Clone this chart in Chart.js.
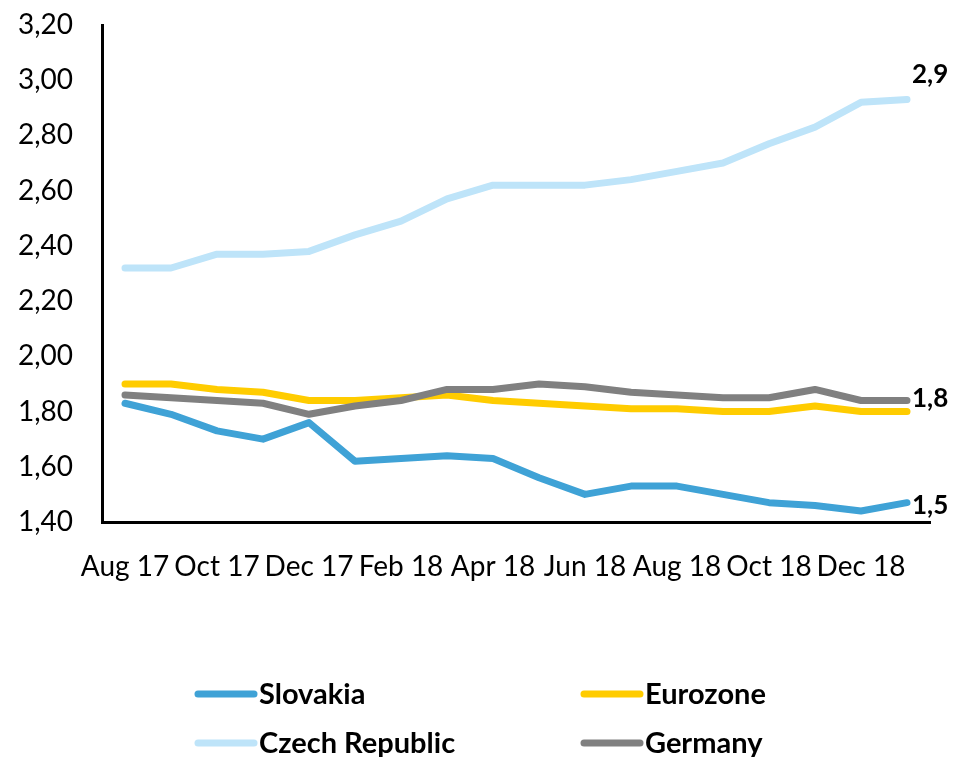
<!DOCTYPE html>
<html>
<head>
<meta charset="utf-8">
<script src="https://cdn.jsdelivr.net/npm/chart.js@4.4.1/dist/chart.umd.min.js"></script>
<style>
  html, body { margin: 0; padding: 0; background: #fff; }
  #wrap { width: 954px; height: 757px; }
</style>
</head>
<body>
<div id="wrap"><canvas id="chart" width="954" height="757"></canvas></div>
<script>

/* DATA */

const months = ["Aug 17","Sep 17","Oct 17","Nov 17","Dec 17","Jan 18","Feb 18","Mar 18","Apr 18",
                "May 18","Jun 18","Jul 18","Aug 18","Sep 18","Oct 18","Nov 18","Dec 18","Jan 19"];

const slovakia = [1.83,1.79,1.73,1.70,1.76,1.62,1.63,1.64,1.63,1.56,1.50,1.53,1.53,1.50,1.47,1.46,1.44,1.47];
const eurozone = [1.90,1.90,1.88,1.87,1.84,1.84,1.85,1.86,1.84,1.83,1.82,1.81,1.81,1.80,1.80,1.82,1.80,1.80];
const czech    = [2.32,2.32,2.37,2.37,2.38,2.44,2.49,2.57,2.62,2.62,2.62,2.64,2.67,2.70,2.77,2.83,2.92,2.93];
const germany  = [1.86,1.85,1.84,1.83,1.79,1.82,1.84,1.88,1.88,1.90,1.89,1.87,1.86,1.85,1.85,1.88,1.84,1.84];

const yMin = 1.4;
const yMax = 3.2;
const yStep = 0.2;

const FONT = "Lato";

function comma(v, d){
    return v.toFixed(d).replace(".", ",");
}

/* end-of-line value labels */

const endLabels = {

    id: "endLabels",

    afterDatasetsDraw(chart){

        const ctx = chart.ctx;

        ctx.save();
        ctx.font = "bold 26px " + FONT;
        ctx.fillStyle = "#000";
        ctx.textAlign = "left";
        ctx.textBaseline = "middle";

        chart.data.datasets.forEach((ds, i)=>{

            if(ds.endLabel === undefined) return;

            const meta = chart.getDatasetMeta(i);
            const pt = meta.data[meta.data.length - 1];
            const v = ds.data[ds.data.length - 1];

            ctx.fillText(comma(v, 1), pt.x + 5, pt.y + ds.endLabel);

        });

        ctx.restore();

    }

};

/* legend, two columns under the plot */

const legendBox = {

    id: "legendBox",

    afterDraw(chart){

        const ctx = chart.ctx;
        const cols = [198, 584];
        const rows = [694, 743];

        ctx.save();
        ctx.font = "bold 29px " + FONT;
        ctx.textAlign = "left";
        ctx.textBaseline = "middle";

        chart.data.datasets.forEach((ds)=>{

            const x = cols[ds.legendPos % 2];
            const y = rows[Math.floor(ds.legendPos / 2)];

            ctx.strokeStyle = ds.borderColor;
            ctx.lineWidth = 7;
            ctx.lineCap = "round";
            ctx.beginPath();
            ctx.moveTo(x, y);
            ctx.lineTo(x + 56, y);
            ctx.stroke();

            ctx.fillStyle = "#000";
            ctx.fillText(ds.label, x + 61, y + 1);

        });

        ctx.restore();

    }

};

const line = {
    borderWidth: 7,
    pointRadius: 0,
    pointHoverRadius: 0,
    tension: 0,
    borderCapStyle: "round",
    borderJoinStyle: "round",
    fill: false
};

new Chart(document.getElementById("chart"),{

    type: "line",

    data: {

        labels: months,

        datasets: [

            { ...line, label: "Slovakia", data: slovakia, borderColor: "#3FA2D6", order: 3, legendPos: 0, endLabel: 3 },

            { ...line, label: "Eurozone", data: eurozone, borderColor: "#FFCC00", order: 2, legendPos: 1 },

            { ...line, label: "Czech Republic", data: czech, borderColor: "#BEE4F9", order: 1, legendPos: 2, endLabel: -25 },

            { ...line, label: "Germany", data: germany, borderColor: "#808080", order: 0, legendPos: 3, endLabel: -2 }

        ]

    },

    plugins: [endLabels, legendBox],

    options: {

        responsive: false,
        animation: false,

        layout: { padding: { top: 25, right: 24, left: 0, bottom: 0 } },

        plugins: {
            legend: { display: false },
            tooltip: { enabled: false }
        },

        scales: {

            x: {
                offset: true,
                grid: { display: false, drawTicks: false },
                border: { display: true, color: "#000", width: 3 },
                ticks: {
                    autoSkip: false,
                    maxRotation: 0,
                    padding: 28,
                    color: "#000",
                    font: { family: FONT, size: 28 },
                    callback: (v, i)=> i % 2 === 0 ? months[i] : ""
                },
                afterFit: (s)=>{ s.height = 235; }
            },

            y: {
                min: yMin,
                max: yMax,
                grid: { display: false, drawTicks: false },
                border: { display: true, color: "#000", width: 3 },
                ticks: {
                    stepSize: yStep,
                    padding: 29,
                    color: "#000",
                    font: { family: FONT, size: 28 },
                    callback: (v)=> comma(v, 2)
                },
                afterFit: (s)=>{
                    s.width = 102;
                    s.paddingTop = 0;
                    s.paddingBottom = 0;
                }
            }

        }

    }

});

</script>
</body>
</html>
